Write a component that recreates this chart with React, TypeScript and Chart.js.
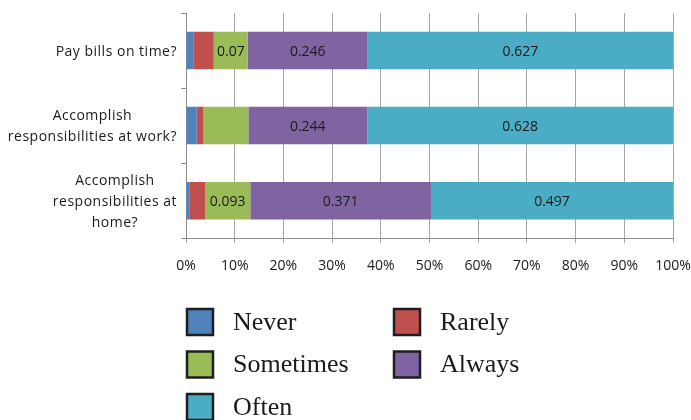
import React, { useEffect, useRef } from "react";
import { Chart, registerables } from "chart.js";

Chart.register(...registerables);

// Survey questions, one entry per line of the wrapped label
const categories: string[][] = [
  ["Pay bills on time?"],
  ["Accomplish", "responsibilities at work?"],
  ["Accomplish", "responsibilities at", "home?"],
];

const seriesNames = ["Never", "Rarely", "Sometimes", "Always", "Often"];
const seriesColors = ["#4F81BD", "#C0504D", "#9BBB59", "#8064A2", "#4BACC6"];

const never = [0.016, 0.022, 0.008];
const rarely = [0.041, 0.014, 0.031];
const sometimes = [0.07, 0.092, 0.093];
const always = [0.246, 0.244, 0.371];
const often = [0.627, 0.628, 0.497];

// which segments carry a printed value
const neverLabeled = [false, false, false];
const rarelyLabeled = [false, false, false];
const sometimesLabeled = [true, false, true];
const alwaysLabeled = [true, true, true];
const oftenLabeled = [true, true, true];

const xTickStep = 0.1;

const seriesValues = [never, rarely, sometimes, always, often];
const seriesLabeled = [neverLabeled, rarelyLabeled, sometimesLabeled, alwaysLabeled, oftenLabeled];

const UI_FONT = "'Open Sans', 'DejaVu Sans', sans-serif";

const valueLabels = {
  id: "valueLabels",
  afterDatasetsDraw(chart: any) {
    const ctx = chart.ctx;
    ctx.save();
    ctx.font = `14px ${UI_FONT}`;
    ctx.fillStyle = "#1a1a1a";
    ctx.textAlign = "center";
    ctx.textBaseline = "middle";
    chart.data.datasets.forEach((ds: any, di: number) => {
      const meta = chart.getDatasetMeta(di);
      meta.data.forEach((el: any, i: number) => {
        if (!seriesLabeled[di][i]) return;
        const p = el.getCenterPoint();
        ctx.fillText(String(ds.data[i]), p.x, p.y + 1);
      });
    });
    ctx.restore();
  },
};

const categoryLabels = {
  id: "categoryLabels",
  afterDraw(chart: any) {
    const ctx = chart.ctx;
    const yScale = chart.scales.y;
    const right = chart.chartArea.left - 9;
    const lineH = 21;
    ctx.save();
    ctx.font = `14px ${UI_FONT}`;
    (ctx as any).letterSpacing = "0.5px";
    ctx.fillStyle = "#1a1a1a";
    ctx.textAlign = "center";
    ctx.textBaseline = "middle";
    categories.forEach((lines, i) => {
      const w = Math.max(...lines.map((l) => ctx.measureText(l).width));
      const cx = right - w / 2;
      const cy = yScale.getPixelForValue(i) + 1;
      lines.forEach((l, k) => {
        ctx.fillText(l, cx, cy + (k - (lines.length - 1) / 2) * lineH);
      });
    });
    ctx.restore();
  },
};

const legendBlock = {
  id: "legendBlock",
  afterDraw(chart: any) {
    const ctx = chart.ctx;
    const colX = [187, 394];
    const rowY = [322, 364.5, 407];
    const box = 26;
    ctx.save();
    ctx.font = "26px 'Liberation Serif', 'Times New Roman', serif";
    ctx.textBaseline = "middle";
    ctx.textAlign = "left";
    chart.data.datasets.forEach((ds: any, i: number) => {
      const x = colX[i % 2];
      const y = rowY[Math.floor(i / 2)];
      ctx.fillStyle = ds.backgroundColor;
      ctx.fillRect(x, y - box / 2, box, box);
      ctx.lineWidth = 2.5;
      ctx.strokeStyle = "#1e1e1e";
      ctx.strokeRect(x, y - box / 2, box, box);
      ctx.fillStyle = "#1a1a1a";
      ctx.fillText(ds.label, x + 46, y + 1);
    });
    ctx.restore();
  },
};

export default function App() {
  const ref = useRef<HTMLCanvasElement | null>(null);

  useEffect(() => {
    if (!ref.current) return;
    const chart = new Chart(ref.current, {
      type: "bar",
      data: {
        labels: categories.map((c) => c.join(" ")),
        datasets: seriesNames.map((name, i) => ({
          label: name,
          data: seriesValues[i],
          backgroundColor: seriesColors[i],
          borderWidth: 0,
          categoryPercentage: 1,
          barPercentage: 0.5,
        })),
      },
      options: {
        indexAxis: "y",
        animation: false,
        responsive: false,
        layout: { padding: { left: 181, right: 18, top: 13, bottom: 132 } },
        plugins: {
          legend: { display: false },
          tooltip: { enabled: false },
          title: { display: false },
        },
        scales: {
          x: {
            stacked: true,
            min: 0,
            max: 1,
            // the last tick label may run to the canvas edge
            afterFit: (scale: any) => {
              scale.paddingRight = 0;
            },
            ticks: {
              stepSize: xTickStep,
              padding: 14,
              color: "#1a1a1a",
              font: { family: UI_FONT, size: 14 },
              callback: (v: any) => `${Math.round(Number(v) * 100)}%`,
            },
            grid: { color: "#a6a6a6", tickLength: 5, lineWidth: 1 },
            border: { color: "#8c8c8c", width: 1 },
          },
          y: {
            stacked: true,
            offset: true,
            ticks: { display: false },
            grid: { offset: true, drawOnChartArea: false, tickLength: 5, color: "#8c8c8c" },
            border: { color: "#8c8c8c", width: 1 },
          },
        },
      },
      plugins: [valueLabels, categoryLabels, legendBlock],
    } as any);
    return () => chart.destroy();
  }, []);

  return (
    <div style={{ position: "fixed", left: 0, top: 0, width: 691, height: 420, background: "#fff" }}>
      <canvas ref={ref} width={691} height={420} />
    </div>
  );
}
